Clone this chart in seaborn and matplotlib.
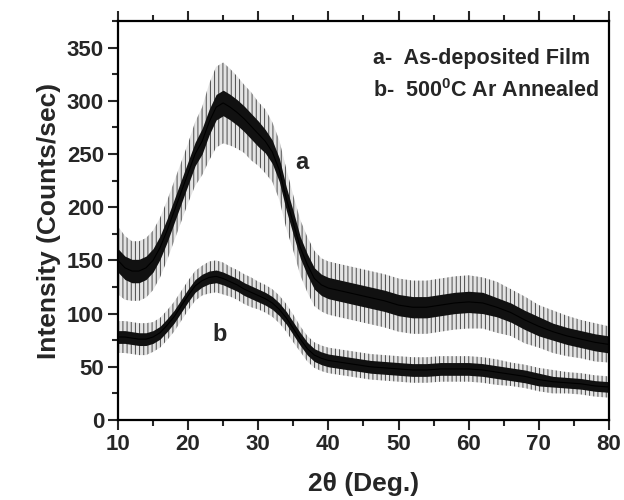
import numpy as np
import pandas as pd
import matplotlib
matplotlib.use("Agg")
import matplotlib.pyplot as plt
import seaborn as sns

# 2-theta positions (deg)
two_theta = [10, 11, 12, 13, 14, 15, 16, 17, 18, 19, 20, 21, 22, 23, 24, 25,
             26, 27, 28, 29, 30, 31, 32, 33, 34, 35, 36, 37, 38, 39, 40,
             42, 44, 46, 48, 50, 52, 54, 56, 58, 60, 62, 64, 66, 68, 70,
             72, 74, 76, 78, 80]

# a - As-deposited film: mean intensity, dense-core half width, spike half width
a_mean = [150, 143, 140, 140, 143, 150, 162, 178, 196, 214, 232, 250, 262, 280, 294, 298,
          294, 289, 283, 276, 269, 262, 252, 235, 208, 185, 162, 146, 133, 127, 124,
          121, 118, 115, 112, 108, 106, 106, 108, 110, 111, 110, 106, 101, 94, 88,
          83, 79, 76, 73, 71]
a_core = [11, 11, 11, 11, 11, 11, 11, 11, 11, 11, 11, 11, 12, 12, 12, 12,
          12, 12, 12, 12, 12, 11, 11, 11, 11, 11, 10, 10, 10, 10, 10,
          10, 10, 10, 10, 10, 10, 10, 10, 10, 10, 10, 9, 9, 9, 9,
          8, 8, 8, 8, 8]
a_spike = [32, 30, 28, 28, 28, 28, 28, 28, 28, 28, 28, 30, 32, 36, 38, 38,
           36, 34, 32, 32, 30, 30, 28, 28, 28, 26, 26, 26, 26, 25, 25,
           25, 25, 25, 25, 25, 25, 25, 25, 25, 25, 24, 24, 22, 22, 20,
           20, 19, 18, 18, 17]

# b - 500 C Ar annealed
b_mean = [78, 78, 77, 76, 76, 78, 82, 89, 97, 107, 117, 126, 131, 134, 135, 133,
          130, 127, 123, 120, 117, 114, 110, 104, 96, 86, 76, 67, 61, 58, 56,
          54, 52, 50, 49, 48, 47, 47, 48, 48, 48, 47, 45, 43, 41, 38,
          36, 35, 34, 32, 31]
b_core = [6, 6, 6, 6, 6, 6, 6, 6, 6, 6, 6, 6, 6, 6, 6, 6,
          6, 6, 6, 6, 6, 6, 6, 6, 6, 6, 6, 6, 6, 6, 6,
          6, 6, 6, 6, 6, 6, 6, 6, 6, 6, 6, 6, 6, 6, 6,
          5, 5, 5, 5, 5]
b_spike = [15, 15, 15, 15, 15, 14, 14, 14, 14, 14, 14, 14, 14, 15, 15, 15,
           14, 14, 14, 14, 13, 13, 13, 13, 13, 13, 12, 12, 12, 12, 12,
           12, 12, 12, 12, 12, 12, 12, 12, 12, 12, 12, 12, 11, 11, 11,
           11, 10, 10, 10, 10]

legend_lines = ["a-  As-deposited Film", "b-  500$^{\\mathbf{0}}$C Ar Annealed"]

sns.set_style("ticks")
plt.rcParams['font.family'] = ['Liberation Sans', 'DejaVu Sans']
plt.rcParams['font.weight'] = 'bold'
plt.rcParams['mathtext.fontset'] = 'custom'
plt.rcParams['mathtext.rm'] = 'Liberation Sans:bold'
plt.rcParams['mathtext.bf'] = 'Liberation Sans:bold'
plt.rcParams['hatch.linewidth'] = 0.7

df = pd.DataFrame({
    "two_theta": two_theta * 2,
    "intensity": a_mean + b_mean,
    "sample": ["a"] * len(two_theta) + ["b"] * len(two_theta),
})

fig = plt.figure(figsize=(6.24, 5.0), dpi=100)
ax = fig.add_axes([0.189, 0.16, 0.787, 0.798])

x = np.array(two_theta)
for mean, core, spike in [(a_mean, a_core, a_spike), (b_mean, b_core, b_spike)]:
    m = np.array(mean, dtype=float)
    lo, hi = m - np.array(spike), m + np.array(spike)
    ax.fill_between(x, lo, hi, facecolor="#e4e4e4", edgecolor="#4a4a4a",
                    hatch="||||", lw=0)
    ax.fill_between(x, m - np.array(core), m + np.array(core), color="#111111", lw=0)

sns.lineplot(data=df, x="two_theta", y="intensity", units="sample", estimator=None,
             color="black", lw=0.8, ax=ax, legend=False)

ax.set_xlim(10, 80)
ax.set_ylim(0, 375)
ax.set_xticks(range(10, 81, 10))
ax.set_xticks(range(15, 80, 10), minor=True)
ax.set_yticks(range(0, 351, 50))
ax.set_yticks(range(25, 376, 50), minor=True)

ax.tick_params(axis="both", which="major", direction="out", length=7, width=1.5,
               labelsize=16, pad=3)
ax.tick_params(axis="both", which="minor", direction="out", length=4, width=1.5)
ax.tick_params(top=True, labeltop=False, which="both")
for t in ax.get_xticklabels() + ax.get_yticklabels():
    t.set_fontweight("bold")
for s in ax.spines.values():
    s.set_linewidth(1.6)
    s.set_color("black")

ax.set_xlabel("2\u03b8 (Deg.)", fontsize=19, fontweight="bold", labelpad=12)
ax.set_ylabel("Intensity (Counts/sec)", fontsize=19, fontweight="bold", labelpad=4)

ax.text(36.2, 242, "a", fontsize=17, fontweight="bold", ha="center", va="center")
ax.text(24.5, 80, "b", fontsize=17, fontweight="bold", ha="center", va="center")
ax.text(46.4, 340, legend_lines[0], fontsize=15.5, fontweight="bold", ha="left", va="center")
ax.text(46.4, 310, legend_lines[1], fontsize=15.5, fontweight="bold", ha="left", va="center")

fig.savefig("out.png", dpi=100)
